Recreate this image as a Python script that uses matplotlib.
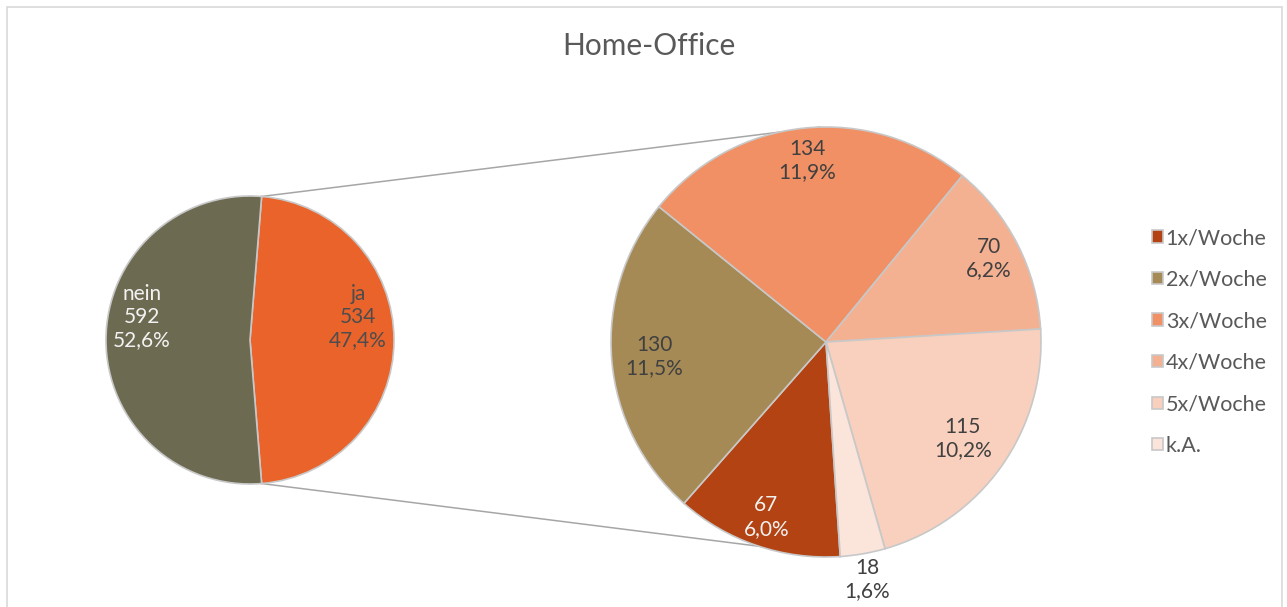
import numpy as np
import matplotlib.pyplot as plt
from matplotlib.patches import Rectangle

# main pie
main_labels = ['ja', 'nein']
main_values = [534, 592]
main_colors = ['#E9632A', '#6C6A51']
main_text_colors = ['#4D4D4D', '#F2F2F2']

# breakdown of "ja"
sub_labels = ['1x/Woche', '2x/Woche', '3x/Woche', '4x/Woche', '5x/Woche', 'k.A.']
sub_values = [67, 130, 134, 70, 115, 18]
sub_colors = ['#B34312', '#A68A56', '#F09064', '#F4B192', '#F8D0BD', '#FBE4DA']
sub_text_colors = ['#F2F2F2', '#404040', '#404040', '#404040', '#404040', '#404040']

total = sum(main_values)
W, H = 1287, 607

plt.rcParams['font.family'] = ['Lato', 'DejaVu Sans']

fig = plt.figure(figsize=(W / 100, H / 100), dpi=100)
ax = fig.add_axes([0, 0, 1, 1])
ax.set_xlim(0, W)
ax.set_ylim(0, H)
ax.set_aspect('equal')
ax.axis('off')

# chart frame
ax.add_patch(Rectangle((7, -20), 1275, H - 7 + 20, fill=False, edgecolor='#D9D9D9', lw=1.2))

def fmt(v):
    return f"{v}\n{v / total * 100:.1f}%".replace('.', ',')

edge = dict(edgecolor='#C8C8C8', linewidth=1.2)
fs = 15

# left pie
c1, r1 = (250, H - 340), 144
half = main_values[0] / total * 180
w1, _ = ax.pie(main_values, colors=main_colors, center=c1, radius=r1,
               startangle=-half, counterclock=True, wedgeprops=edge, frame=True)
for w, lab, v, tc in zip(w1, main_labels, main_values, main_text_colors):
    a = np.deg2rad((w.theta1 + w.theta2) / 2)
    x = c1[0] + 0.75 * r1 * np.cos(a)
    y = c1[1] + 0.75 * r1 * np.sin(a) + 23
    ax.text(x, y, f"{lab}\n" + fmt(v), ha='center', va='center', fontsize=fs,
            color=tc, linespacing=1.2)

# right pie
c2, r2 = (826, H - 342), 215
w2, _ = ax.pie(sub_values, colors=sub_colors, center=c2, radius=r2,
               startangle=-86.2, counterclock=False, wedgeprops=edge, frame=True)
dists = [0.86, 0.8, 0.85, 0.85, 0.78, 1.12]
for w, v, tc, d in zip(w2, sub_values, sub_text_colors, dists):
    a = np.deg2rad((w.theta1 + w.theta2) / 2)
    x = c2[0] + d * r2 * np.cos(a)
    y = c2[1] + d * r2 * np.sin(a)
    ax.text(x, y, fmt(v), ha='center', va='center', fontsize=fs,
            color=tc, linespacing=1.2)

ax.set_xlim(0, W)
ax.set_ylim(0, H)
ax.axis('off')

# connector lines
for a1, a2 in [(half, 91.6), (-half, -86.2)]:
    p1 = (c1[0] + r1 * np.cos(np.deg2rad(a1)), c1[1] + r1 * np.sin(np.deg2rad(a1)))
    p2 = (c2[0] + r2 * np.cos(np.deg2rad(a2)), c2[1] + r2 * np.sin(np.deg2rad(a2)))
    ax.plot([p1[0], p2[0]], [p1[1], p2[1]], color='#A6A6A6', lw=1.1, zorder=0)

ax.text(649, H - 46, 'Home-Office', ha='center', va='center', fontsize=21.5,
        color='#595959')

leg = ax.legend(w2, sub_labels, loc='center left', bbox_to_anchor=(1141 / W, 1 - 342 / H),
                frameon=False, fontsize=15.5, labelcolor='#595959',
                handlelength=0.5, handleheight=0.5, handletextpad=0.15,
                labelspacing=1.0, borderpad=0)

fig.savefig('out.png', dpi=100)
